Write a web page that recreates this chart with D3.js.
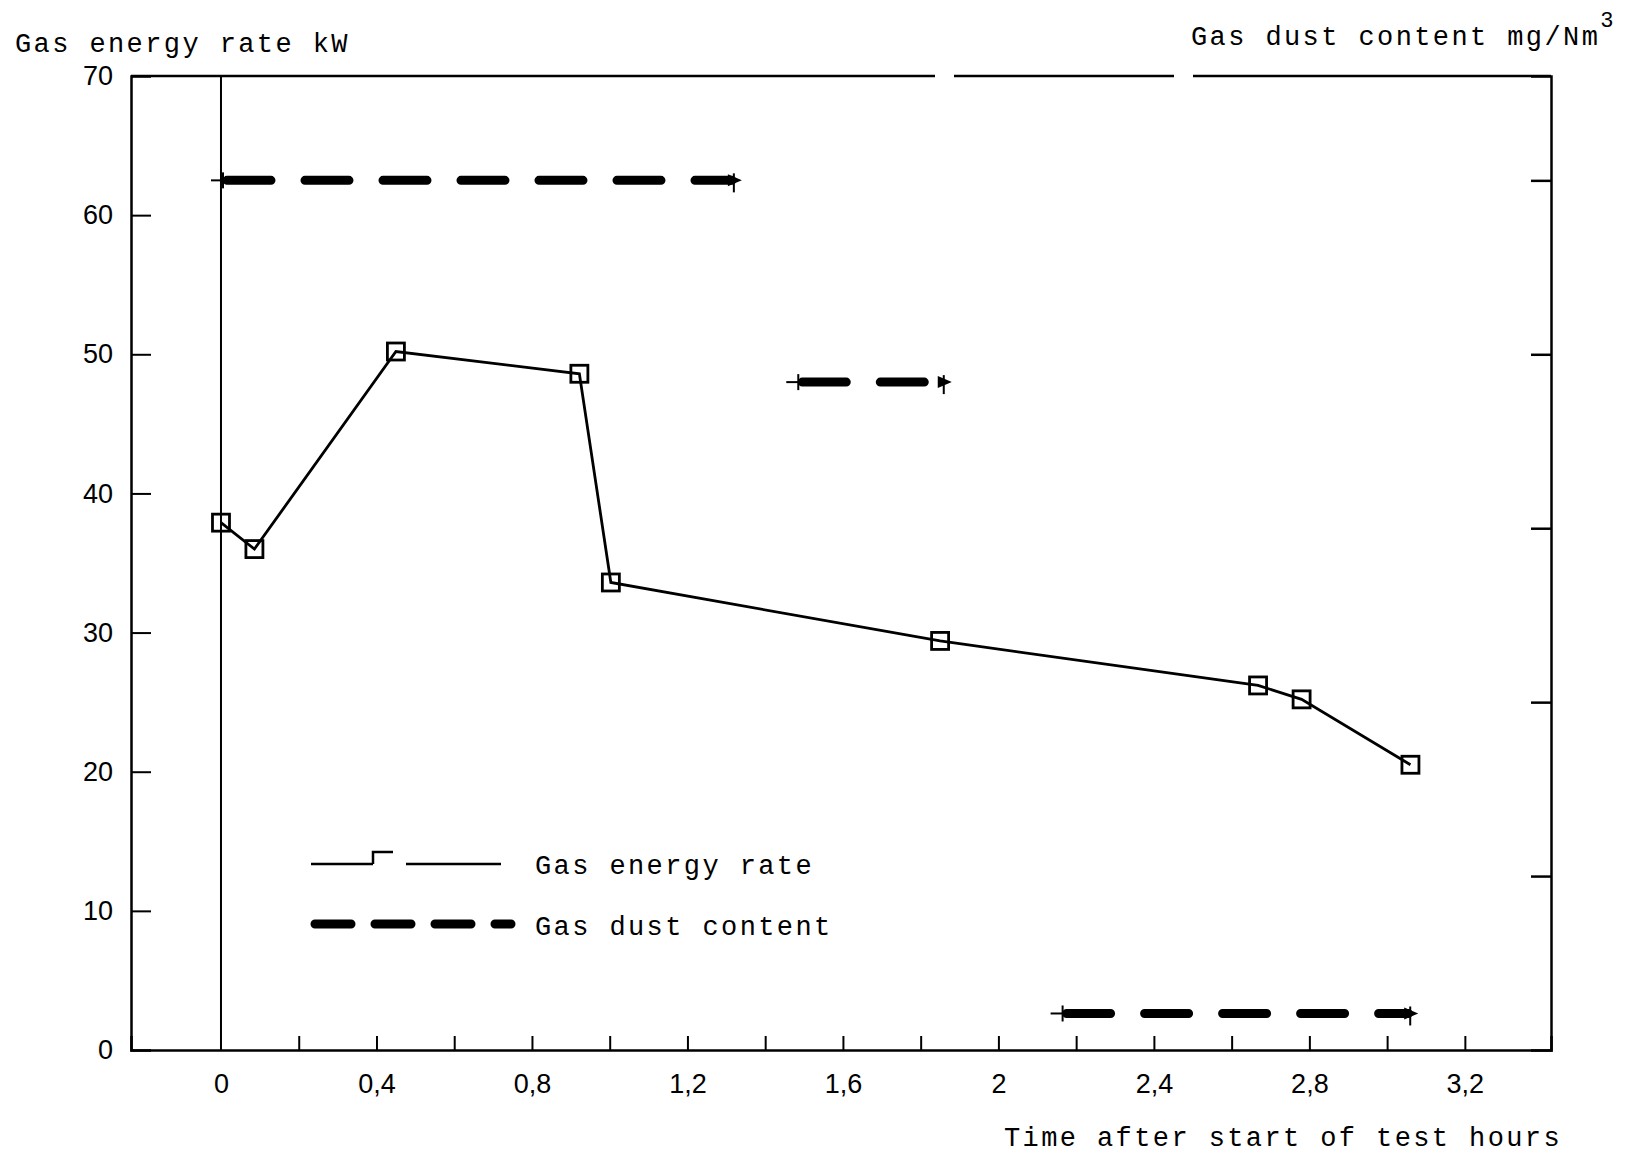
<!DOCTYPE html>
<html>
<head>
<meta charset="utf-8">
<script src="https://cdn.jsdelivr.net/npm/d3@7"></script>
<style>
  body { margin: 0; background: #fff; }
  .mono { font-family: "Liberation Mono", "DejaVu Sans Mono", monospace; font-size: 27px; letter-spacing: 2.4px; fill: #000; }
  .tick text { font-family: "Liberation Sans", Arial, sans-serif; font-size: 27px; fill: #000; }
</style>
</head>
<body>
<script>
// gas energy rate (kW) over time (hours)
var energyTime = [0, 0.086, 0.45, 0.922, 1.003, 1.85, 2.668, 2.78, 3.06];
var energyValue = [37.9, 36.0, 50.2, 48.6, 33.6, 29.4, 26.2, 25.2, 20.5];

// gas dust content periods (right axis, unlabeled units)
var dustStart = [0, 1.48, 2.16];
var dustEnd = [1.34, 1.88, 3.08];
var dustValue = [25.0, 19.2, 1.05];

// tick labels
var xTicks = [0, 0.4, 0.8, 1.2, 1.6, 2, 2.4, 2.8, 3.2];
var xMinorTicks = [0.2, 0.4, 0.6, 0.8, 1.0, 1.2, 1.4, 1.6, 1.8, 2.0, 2.2, 2.4, 2.6, 2.8, 3.0, 3.2];
var yTicks = [0, 10, 20, 30, 40, 50, 60, 70];
var rightTicks = [5, 10, 15, 20, 25];

var width = 1634, height = 1156;
var margin = {top: 76, right: 83, bottom: 106, left: 131};
var w = width - margin.left - margin.right;
var h = height - margin.top - margin.bottom;

var svg = d3.select("body").append("svg")
  .attr("width", width)
  .attr("height", height);

var g = svg.append("g")
  .attr("transform", "translate(" + margin.left + "," + margin.top + ")");

var xScale = d3.scaleLinear().domain([-0.2315, 3.4216]).range([0, w]);
var yScale = d3.scaleLinear().domain([0, 70]).range([h, 0]);
var yRight = d3.scaleLinear().domain([0, 28]).range([h, 0]);

var fmt = function(d) { return d3.format("~g")(d).replace(".", ","); };

// frame top (scan has two small breaks)
g.append("line").attr("x1", 0).attr("x2", w).attr("y1", 0).attr("y2", 0)
  .attr("stroke", "#000").attr("stroke-width", 2.5)
  .attr("stroke-dasharray", "804 19 220 19 400");

// bottom axis: ticks inward, labels below
g.append("g")
  .attr("transform", "translate(0," + h + ")")
  .call(d3.axisTop(xScale).tickValues(xMinorTicks).tickSize(14).tickFormat(""))
  .call(function(s) { s.select(".domain").attr("stroke-width", 2.5); s.selectAll(".tick line").attr("stroke-width", 2); });

g.append("g")
  .attr("transform", "translate(0," + h + ")")
  .call(d3.axisBottom(xScale).tickValues(xTicks).tickSize(0).tickPadding(24).tickFormat(fmt))
  .call(function(s) { s.select(".domain").remove(); });

// left axis: ticks inward, labels outside
g.append("g")
  .call(d3.axisRight(yScale).tickValues([10, 20, 30, 40, 50, 60]).tickSize(20).tickFormat(""))
  .call(function(s) { s.select(".domain").attr("stroke-width", 2.5); s.selectAll(".tick line").attr("stroke-width", 2); });

g.append("g")
  .call(d3.axisLeft(yScale).tickValues(yTicks).tickSize(0).tickPadding(18))
  .call(function(s) { s.select(".domain").remove(); });

// right axis: ticks inward, no labels
g.append("g")
  .attr("transform", "translate(" + w + ",0)")
  .call(d3.axisLeft(yRight).tickValues(rightTicks).tickSize(20).tickFormat(""))
  .call(function(s) { s.select(".domain").attr("stroke-width", 2.5); s.selectAll(".tick line").attr("stroke-width", 2.5); });

// vertical line at start of test
g.append("line")
  .attr("x1", xScale(0)).attr("x2", xScale(0))
  .attr("y1", 0).attr("y2", h)
  .attr("stroke", "#000").attr("stroke-width", 2);

// gas energy rate line
var energy = energyTime.map(function(t, i) { return {t: t, v: energyValue[i]}; });

var line = d3.line()
  .x(function(d) { return xScale(d.t); })
  .y(function(d) { return yScale(d.v); });

g.append("path")
  .datum(energy)
  .attr("d", line)
  .attr("fill", "none")
  .attr("stroke", "#000")
  .attr("stroke-width", 2.8);

var sq = 17;
g.selectAll("rect.marker")
  .data(energy)
  .enter()
  .append("rect")
  .attr("class", "marker")
  .attr("x", function(d) { return xScale(d.t) - sq / 2; })
  .attr("y", function(d) { return yScale(d.v) - sq / 2; })
  .attr("width", sq)
  .attr("height", sq)
  .attr("fill", "none")
  .attr("stroke", "#000")
  .attr("stroke-width", 2.8);

// gas dust content periods
var dust = dustStart.map(function(s, i) { return {s: s, e: dustEnd[i], v: dustValue[i]}; });

var dg = g.selectAll("g.dust")
  .data(dust)
  .enter()
  .append("g")
  .attr("class", "dust");

dg.append("line")
  .attr("x1", function(d) { return xScale(d.s) + 6; })
  .attr("x2", function(d) { return xScale(d.e) - 10; })
  .attr("y1", function(d) { return yRight(d.v); })
  .attr("y2", function(d) { return yRight(d.v); })
  .attr("stroke", "#000")
  .attr("stroke-width", 9)
  .attr("stroke-linecap", "round")
  .attr("stroke-dasharray", "44 34");

// thin lead-in at start with small vertical mark
dg.append("line")
  .attr("x1", function(d) { return xScale(d.s) - 10; })
  .attr("x2", function(d) { return xScale(d.s) + 6; })
  .attr("y1", function(d) { return yRight(d.v); })
  .attr("y2", function(d) { return yRight(d.v); })
  .attr("stroke", "#000").attr("stroke-width", 2);

dg.append("line")
  .attr("x1", function(d) { return xScale(d.s) + 2; })
  .attr("x2", function(d) { return xScale(d.s) + 2; })
  .attr("y1", function(d) { return yRight(d.v) - 8; })
  .attr("y2", function(d) { return yRight(d.v) + 8; })
  .attr("stroke", "#000").attr("stroke-width", 2);

// arrowhead at end
dg.append("path")
  .attr("d", function(d) {
    var x = xScale(d.e), y = yRight(d.v);
    return "M" + (x - 14) + "," + (y - 6) + "L" + x + "," + y + "L" + (x - 14) + "," + (y + 6) + "Z";
  })
  .attr("fill", "#000");

dg.append("line")
  .attr("x1", function(d) { return xScale(d.e) - 8; })
  .attr("x2", function(d) { return xScale(d.e) - 8; })
  .attr("y1", function(d) { return yRight(d.v) - 7; })
  .attr("y2", function(d) { return yRight(d.v) + 12; })
  .attr("stroke", "#000").attr("stroke-width", 2);

// legend
var lg = g.append("g").attr("transform", "translate(180," + (yScale(0) - 186) + ")");

lg.append("path")
  .attr("d", "M0,0H62M62,0V-12H82M95,0H190")
  .attr("fill", "none").attr("stroke", "#000").attr("stroke-width", 2.5);

lg.append("text").attr("class", "mono")
  .attr("x", 224).attr("y", 10)
  .text("Gas energy rate");

lg.append("line")
  .attr("x1", 4).attr("x2", 200)
  .attr("y1", 60).attr("y2", 60)
  .attr("stroke", "#000").attr("stroke-width", 9)
  .attr("stroke-linecap", "round")
  .attr("stroke-dasharray", "36 24");

lg.append("text").attr("class", "mono")
  .attr("x", 224).attr("y", 71)
  .text("Gas dust content");

// axis titles
svg.append("text").attr("class", "mono")
  .attr("x", 15).attr("y", 52)
  .text("Gas energy rate kW");

var rt = svg.append("text").attr("class", "mono")
  .attr("x", 1191).attr("y", 45);
rt.append("tspan").text("Gas dust content mg/Nm");
rt.append("tspan").attr("dy", -18).style("font-size", "22px").text("3");

svg.append("text").attr("class", "mono")
  .attr("x", 1004).attr("y", 1146)
  .text("Time after start of test hours");
</script>
</body>
</html>
